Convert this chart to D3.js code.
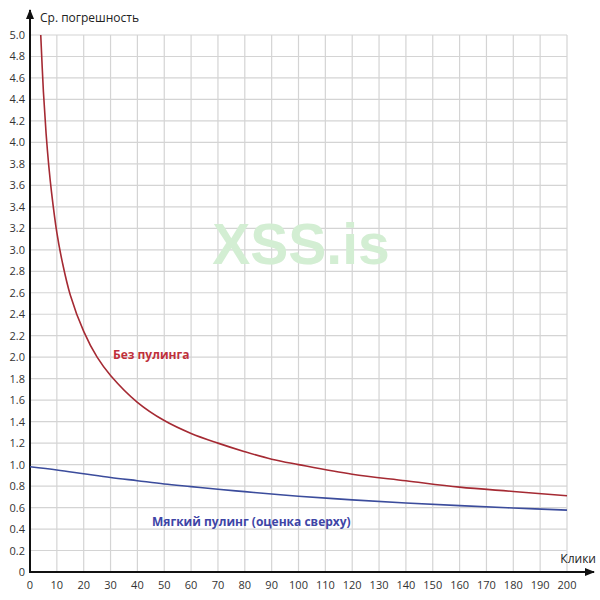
<!DOCTYPE html>
<html>
<head>
<meta charset="utf-8">
<script src="https://cdn.jsdelivr.net/npm/d3@7"></script>
<style>
  body { margin: 0; background: #fff; }
  svg text { font-family: "Open Sans", "Noto Sans", sans-serif; }
</style>
</head>
<body>
<div id="chart"></div>
<script>
// clicks on x, mean error on y
var redX = [4, 5, 6, 7, 8, 10, 12, 15, 20, 25, 30, 40, 50, 60, 70, 80, 90, 100, 120, 140, 160, 180, 200];
var redY = [5.0, 4.47, 4.08, 3.78, 3.54, 3.16, 2.89, 2.58, 2.24, 2.0, 1.83, 1.58, 1.41, 1.29, 1.2, 1.12, 1.05, 1.0, 0.91, 0.85, 0.79, 0.75, 0.71];
var blueX = [0, 10, 20, 30, 40, 50, 60, 70, 80, 90, 100, 120, 140, 160, 180, 200];
var blueY = [0.98, 0.95, 0.915, 0.88, 0.85, 0.82, 0.795, 0.77, 0.748, 0.726, 0.706, 0.672, 0.643, 0.618, 0.596, 0.576];
var xTicks = d3.range(0, 201, 10);
var yTicks = d3.range(0, 26).map(function (i) { return +(i * 0.2).toFixed(1); });
var yTitle = "Ср. погрешность";
var xTitle = "Клики";
var redLabel = "Без пулинга";
var blueLabel = "Мягкий пулинг (оценка сверху)";

var svg = d3.select("#chart").append("svg")
    .attr("width", 600).attr("height", 600);

var x = d3.scaleLinear().domain([0, 200]).range([30, 567]);
var y = d3.scaleLinear().domain([0, 5]).range([572, 35]);

// grid
var grid = svg.append("g").attr("stroke", "#d4d4d4").attr("stroke-width", 1.2);
grid.selectAll(".vg").data(xTicks.slice(1)).enter().append("line")
    .attr("x1", function (d) { return x(d); }).attr("x2", function (d) { return x(d); })
    .attr("y1", y(0)).attr("y2", y(5));
grid.selectAll(".hg").data(yTicks.slice(1)).enter().append("line")
    .attr("x1", x(0)).attr("x2", x(200))
    .attr("y1", function (d) { return y(d); }).attr("y2", function (d) { return y(d); });

// watermark
svg.append("text")
    .attr("x", 301).attr("y", 264)
    .attr("text-anchor", "middle")
    .style("font-family", "'Liberation Sans', Arial, sans-serif")
    .style("font-weight", "bold")
    .style("font-size", "57px")
    .attr("fill", "#d3eed3")
    .text("XSS.is");

// tick labels
svg.append("g").selectAll("text").data(xTicks).enter().append("text")
    .attr("x", function (d) { return x(d); }).attr("y", 589)
    .attr("text-anchor", "middle")
    .style("font-size", "11px").attr("fill", "#333")
    .text(function (d) { return d; });
svg.append("g").selectAll("text").data(yTicks).enter().append("text")
    .attr("x", 25).attr("y", function (d) { return y(d) + 4; })
    .attr("text-anchor", "end")
    .style("font-size", "11px").attr("fill", "#333")
    .text(function (d) { return d === 0 ? "0" : d.toFixed(1); });

// axes with arrows
var defs = svg.append("defs");
defs.append("marker").attr("id", "arr")
    .attr("viewBox", "0 0 10 10").attr("refX", 9).attr("refY", 5)
    .attr("markerWidth", 10).attr("markerHeight", 10)
    .attr("markerUnits", "userSpaceOnUse")
    .attr("orient", "auto")
    .append("path").attr("d", "M0,1 L10,5 L0,9 Z").attr("fill", "#111");

svg.append("line").attr("x1", x(0)).attr("x2", x(0))
    .attr("y1", y(0) + 1).attr("y2", 10)
    .attr("stroke", "#111").attr("stroke-width", 2)
    .attr("marker-end", "url(#arr)");
svg.append("line").attr("x1", x(0) - 1).attr("x2", 594)
    .attr("y1", y(0)).attr("y2", y(0))
    .attr("stroke", "#111").attr("stroke-width", 2)
    .attr("marker-end", "url(#arr)");

svg.append("text").attr("x", 40).attr("y", 22)
    .style("font-size", "12px").attr("fill", "#222").text(yTitle);
svg.append("text").attr("x", 596).attr("y", 563)
    .attr("text-anchor", "end")
    .style("font-size", "12px").attr("fill", "#222").text(xTitle);

// curves
var line = d3.line()
    .x(function (d) { return x(d[0]); })
    .y(function (d) { return y(d[1]); })
    .curve(d3.curveCatmullRom);

svg.append("path")
    .datum(d3.zip(redX, redY))
    .attr("fill", "none").attr("stroke", "#a52a33").attr("stroke-width", 1.6)
    .attr("d", line);
svg.append("path")
    .datum(d3.zip(blueX, blueY))
    .attr("fill", "none").attr("stroke", "#3b4c9c").attr("stroke-width", 1.6)
    .attr("d", line);

svg.append("text").attr("x", 113).attr("y", 359)
    .style("font-size", "12px").style("font-weight", "bold")
    .attr("fill", "#c0303a").text(redLabel);
svg.append("text").attr("x", 152).attr("y", 526)
    .style("font-size", "12px").style("font-weight", "bold")
    .attr("fill", "#3e45a6").text(blueLabel);
</script>
</body>
</html>
